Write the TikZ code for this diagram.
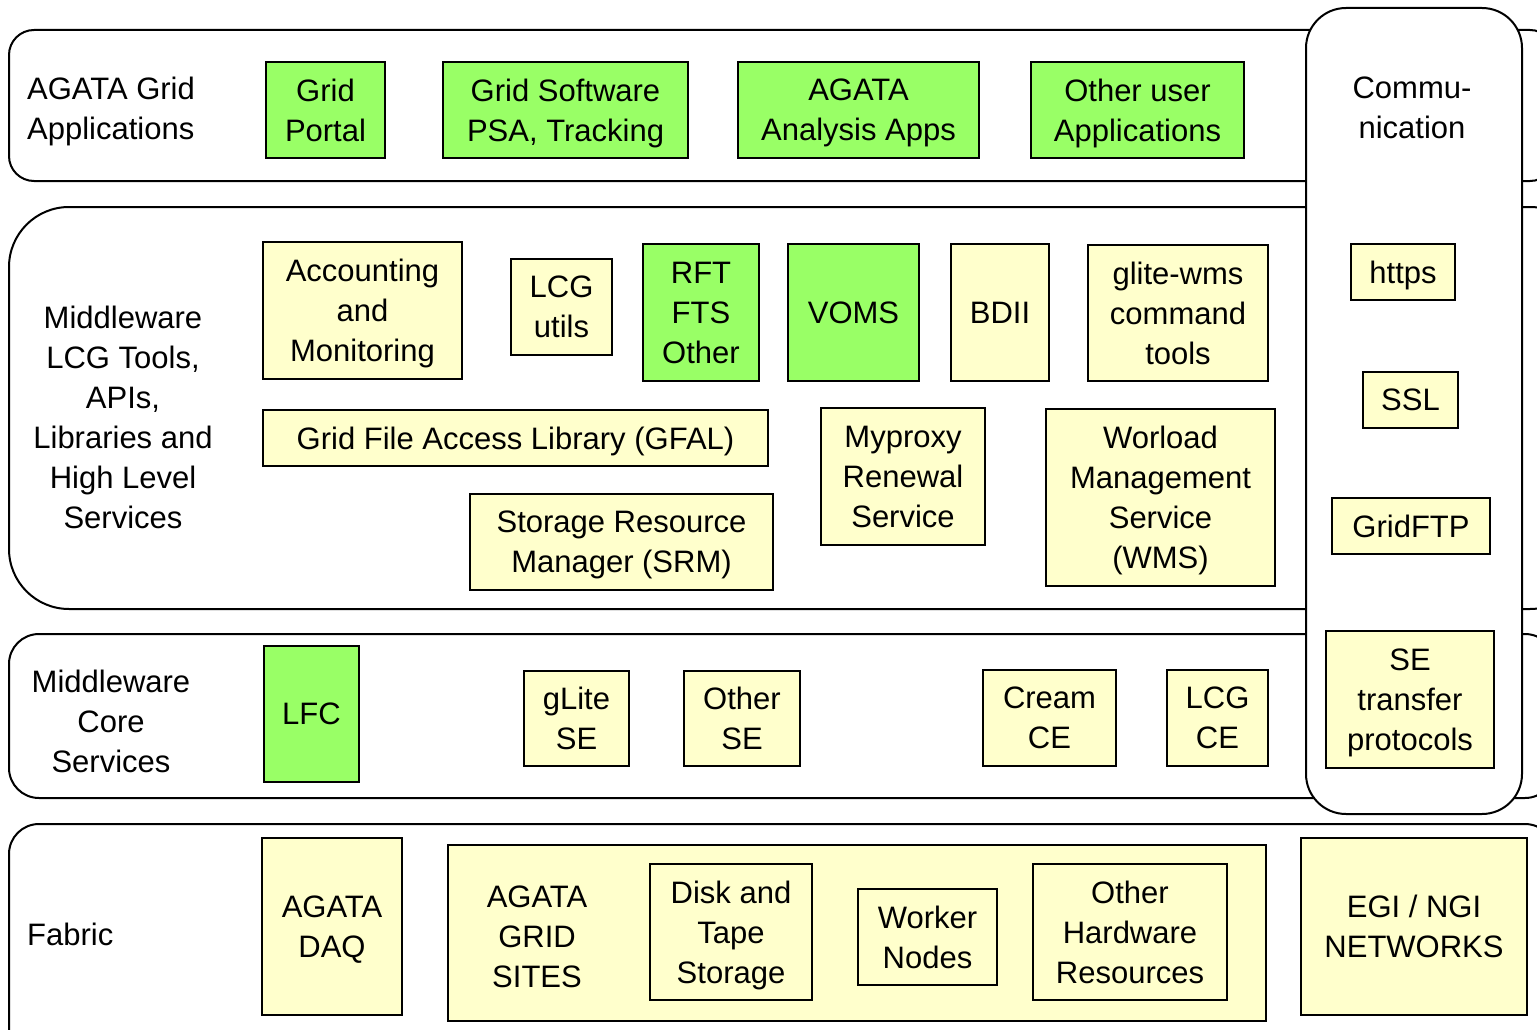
\documentclass[tikz,border=0pt]{standalone}
\usepackage{fontspec}
\setmainfont{Liberation Sans}
\usepackage{xcolor}
\usepackage{tikz}
\usetikzlibrary{positioning,fit,calc}
\definecolor{appgreen}{RGB}{153,255,102}
\definecolor{toolyellow}{RGB}{255,255,204}
\tikzset{
  layer/.style={draw,line width=2pt,fill=white,inner sep=0pt},
  gbox/.style={draw,line width=2pt,fill=appgreen,align=center,inner sep=0pt,text depth=0pt},
  ybox/.style={draw,line width=2pt,fill=toolyellow,align=center,inner sep=0pt,text depth=0pt},
}

\begin{document}
\begin{tikzpicture}[x=1pt,y=-1pt,
      font=\fontsize{31}{40}\selectfont,
      layerl/.style={align=left,inner sep=0pt,anchor=west,text depth=0pt},
      layerc/.style={align=center,inner sep=0pt,text depth=0pt},]
      \useasboundingbox (0,0) rectangle (1537,1030);
      \clip (0,0) rectangle (1537,1030);

      % layers
      \node[layer, rounded corners=25pt, minimum width=1546pt, minimum height=151pt] (appl) at (782,105.5) {};
      \node[layer, rounded corners=60pt, minimum width=1581pt, minimum height=402pt] (mware) at (799.5,408) {};
      \node[layer, rounded corners=30pt, minimum width=1546pt, minimum height=164pt] (core) at (782,716) {};
      \node[layer, rounded corners=30pt, minimum width=1546pt, minimum height=236pt] (fabric) at (782,942) {};
      \node[layer, rounded corners=40pt, minimum width=216pt, minimum height=806pt] (comm) at (1414,411) {};

      \node[layerl] (applt) at (27,108) {AGATA Grid\\Applications};
      \node[layerc] (mwaret) at (123,417) {Middleware\\LCG Tools,\\APIs,\\Libraries and\\High Level\\Services};
      \node[layerc] (coret) at (111,721) {Middleware\\Core\\Services};
      \node[layerl] (fabrict) at (27,934) {Fabric};
      \node[layerc] (commt) at (1412,108) {Commu-\\nication};

      % applications
      \node[gbox, minimum width=119pt, minimum height=96pt] (portal) at (325.5,110) {Grid\\Portal};
      \node[gbox, minimum width=245pt, minimum height=96pt] (gsoft) at (565.5,110) {Grid Software\\PSA, Tracking};
      \node[gbox, minimum width=241pt, minimum height=96pt] (anapps) at (858.5,110) {AGATA\\Analysis Apps};
      \node[gbox, minimum width=213pt, minimum height=96pt] (userapps) at (1137.5,110) {Other user\\Applications};

      % middleware tools
      \node[ybox, minimum width=199pt, minimum height=137pt] (acct) at (362.5,310.5) {Accounting\\and\\Monitoring};
      \node[ybox, minimum width=101pt, minimum height=96pt] (lcgutils) at (561.5,307) {LCG\\utils};
      \node[gbox, minimum width=116pt, minimum height=137pt] (rft) at (701,312.5) {RFT\\FTS\\Other};
      \node[gbox, minimum width=131pt, minimum height=137pt] (voms) at (853.5,312.5) {VOMS};
      \node[ybox, minimum width=98pt, minimum height=137pt] (bdii) at (1000,312.5) {BDII};
      \node[ybox, minimum width=180pt, minimum height=136pt] (glite) at (1178,313) {glite-wms\\command\\tools};
      \node[ybox, minimum width=505pt, minimum height=56pt] (gfal) at (515.5,438) {Grid File Access Library (GFAL)};
      \node[ybox, minimum width=303pt, minimum height=96pt] (srm) at (621.5,542) {Storage Resource\\Manager (SRM)};
      \node[ybox, minimum width=164pt, minimum height=137pt] (myproxy) at (903,476.5) {Myproxy\\Renewal\\Service};
      \node[ybox, minimum width=229pt, minimum height=177pt] (wms) at (1160.5,497.5) {Worload\\Management\\Service\\(WMS)};

      % communication
      \node[ybox, minimum width=104pt, minimum height=56pt] (https) at (1403,272) {https};
      \node[ybox, minimum width=95pt, minimum height=56pt] (ssl) at (1410.5,400) {SSL};
      \node[ybox, minimum width=158pt, minimum height=56pt] (gridftp) at (1411,526) {GridFTP};
      \node[ybox, minimum width=168pt, minimum height=137pt] (setp) at (1410,699.5) {SE\\transfer\\protocols};

      % core services
      \node[gbox, minimum width=95pt, minimum height=136pt] (lfc) at (311.5,714) {LFC};
      \node[ybox, minimum width=105pt, minimum height=95pt] (glitese) at (576.5,718.5) {gLite\\SE};
      \node[ybox, minimum width=116pt, minimum height=95pt] (otherse) at (742,718.5) {Other\\SE};
      \node[ybox, minimum width=133pt, minimum height=96pt] (cream) at (1049.5,718) {Cream\\CE};
      \node[ybox, minimum width=101pt, minimum height=96pt] (lcgce) at (1217.5,718) {LCG\\CE};

      % fabric
      \node[ybox, minimum width=140pt, minimum height=177pt] (daq) at (332,926.5) {AGATA\\DAQ};
      \node[ybox, minimum width=818pt, minimum height=176pt] (sites) at (857,933) {};
      \node[layerc] (sitest) at (537,937) {AGATA\\GRID\\SITES};
      \node[ybox, minimum width=162pt, minimum height=136pt] (disk) at (731,932) {Disk and\\Tape\\Storage};
      \node[ybox, minimum width=139pt, minimum height=96pt] (worker) at (927.5,937) {Worker\\Nodes};
      \node[ybox, minimum width=194pt, minimum height=136pt] (otherhw) at (1130,932) {Other\\Hardware\\Resources};
      \node[ybox, minimum width=226pt, minimum height=177pt] (egi) at (1414,926.5) {EGI / NGI\\NETWORKS};
\end{tikzpicture}
\end{document}
